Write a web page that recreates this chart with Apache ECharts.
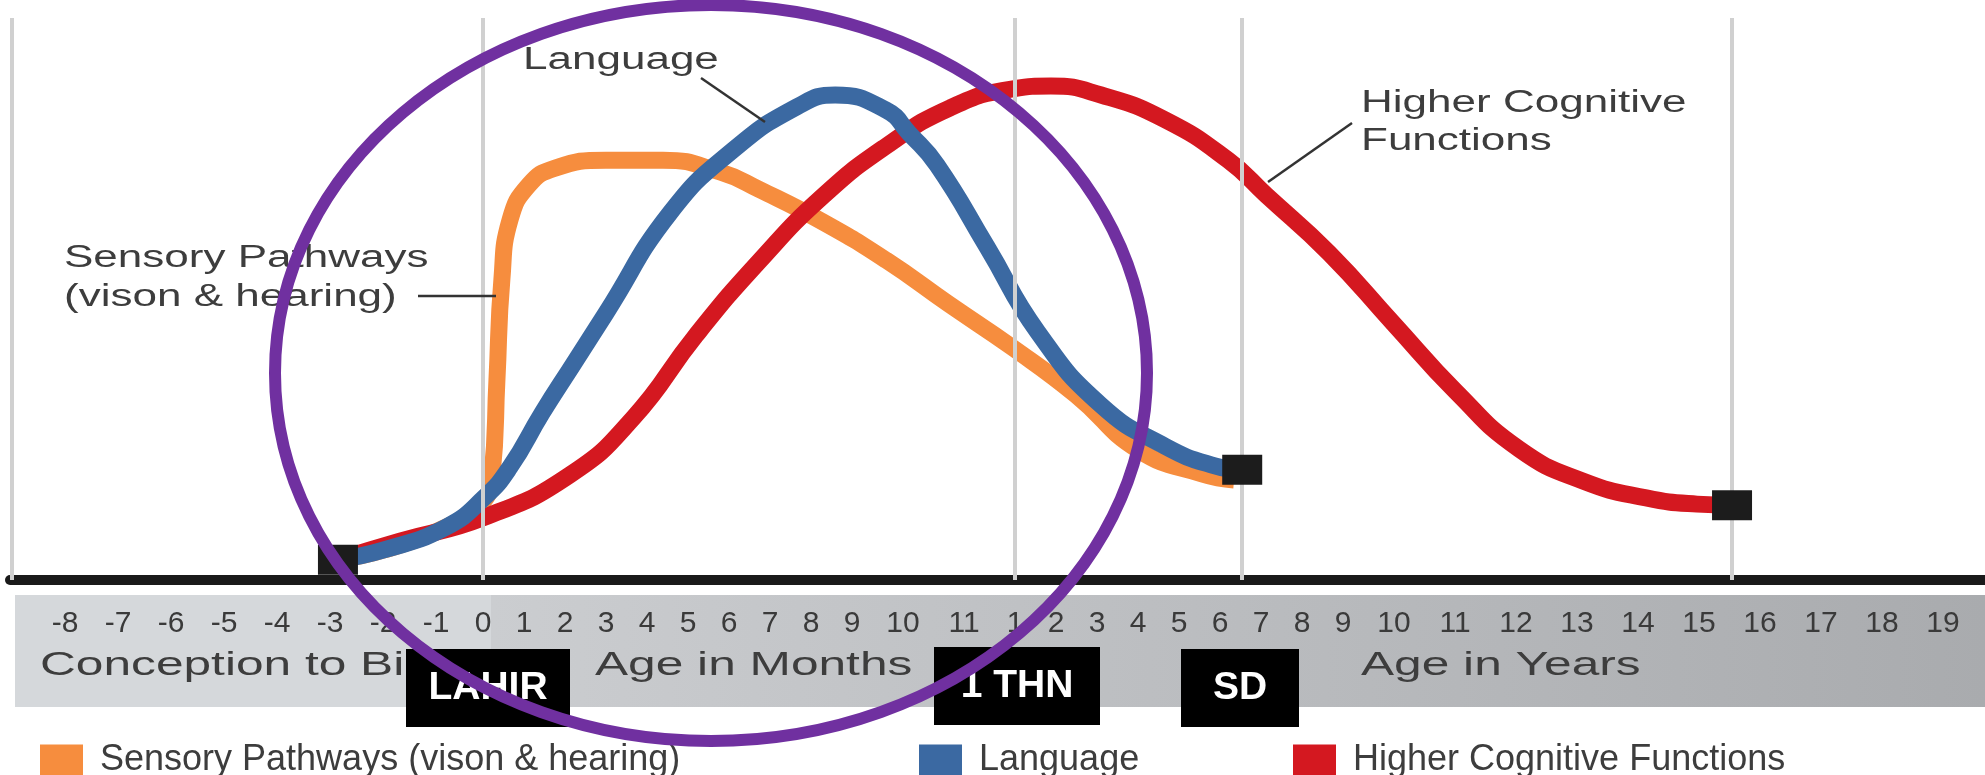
<!DOCTYPE html>
<html>
<head>
<meta charset="utf-8">
<title>Brain development</title>
<script src="https://cdn.jsdelivr.net/npm/echarts@6/dist/echarts.min.js"></script>
<style>
  html, body { margin: 0; padding: 0; background: #fff; }
  #chart { width: 1985px; height: 775px; }
</style>
</head>
<body>
<div id="chart"></div>
<script>
// tick labels of the age strip: months before birth, months, then years
const tickLabels = ['-8', '-7', '-6', '-5', '-4', '-3', '-2', '-1', '0', '1', '2', '3', '4', '5', '6', '7', '8', '9', '10', '11',
  '1', '2', '3', '4', '5', '6', '7', '8', '9', '10', '11', '12', '13', '14', '15', '16', '17', '18', '19'];

const seriesNames = ['Sensory Pathways (vison & hearing)', 'Language', 'Higher Cognitive Functions'];

// age in months (negative = before birth) and relative level
const sensoryAge = [-2.85, -2.0, -0.79, -0.06, 0.22, 0.34, 0.46, 0.66, 1.12, 1.76, 3.0, 4.39, 5.78, 6.76, 8.29, 9.67, 10.75, 11.96, 29.9, 48.2, 66.7, 76.1];
const sensoryLevel = [3.6, 5.3, 9.4, 13.3, 18.7, 35.6, 53.4, 64.1, 70.3, 73.3, 74.7, 74.7, 72.6, 69.4, 63.7, 56.9, 49.1, 41.3, 32.9, 23.1, 18.9, 17.8];

const languageAge = [-2.85, -2.0, -0.79, 0.05, 0.66, 1.44, 2.22, 3.0, 4.56, 6.1, 7.66, 8.59, 9.67, 10.1, 10.56, 11.45, 18.7, 37.2, 55.9, 70.5, 78.5];
const languageLevel = [3.6, 5.3, 9.4, 14.8, 20.1, 29.7, 38.6, 47.5, 65.3, 76.5, 84.2, 86.3, 83.6, 79.5, 73.8, 59.3, 44.1, 31.1, 23.8, 20.3, 19.6];

const cognitiveAge = [-2.85, -1.68, 0.05, 2.12, 3.66, 5.2, 6.76, 8.29, 9.67, 10.77, 11.96, 22.5, 37.2, 55.9, 74.4, 85.5, 103.9, 119.8, 132.2, 144.6, 157.2, 169.6, 179.6, 186.5];
const cognitiveLevel = [3.6, 6.9, 11.2, 18.7, 28.8, 43.6, 56.9, 68.3, 77.2, 84, 87.4, 87.9, 86.3, 81.9, 74.7, 68.5, 58.2, 45.7, 33.5, 23.3, 17.6, 14.6, 13.5, 13.3];

// vertical reference lines: conception, birth, 1 year, ~6.5 years, ~15.5 years
const refAges = [-9, 0, 12, 78.5, 186.5];

// the strip is laid out like running text: label centres follow label widths
const DIGIT = 20, DASH = 12, GAP = 21, FIRST = 65, STRIP_W = 1985;
const labelW = s => s.replace('-', '').length * DIGIT + (s[0] === '-' ? DASH : 0);
const tickPos = [];
tickLabels.forEach((s, i) => {
  tickPos.push(i === 0 ? FIRST : tickPos[i - 1] + (labelW(tickLabels[i - 1]) + labelW(s)) / 2 + GAP);
});
const slotOf = m => (m <= 12 ? m + 8 : 19 + m / 12);
const posOf = m => {
  const s = slotOf(m);
  const i = Math.max(0, Math.min(tickPos.length - 2, Math.floor(s)));
  return tickPos[i] + (s - i) * (tickPos[i + 1] - tickPos[i]);
};
const labelAt = v => {
  const i = tickPos.findIndex(p => Math.abs(p - v) < 0.5);
  return i < 0 ? '' : tickLabels[i];
};

const colors = ['#f68d3e', '#3b69a2', '#d41820'];
const txt = '#3d3d3d';
const FONT = '"Liberation Sans", Arial, sans-serif';

const line = (name, ages, levels, color) => ({
  name, type: 'line', smooth: 0.5, symbol: 'none', silent: true,
  data: ages.map((a, i) => [posOf(a), levels[i]]),
  lineStyle: { color, width: 17 },
  itemStyle: { color },
  z: 3
});

const chart = echarts.init(document.getElementById('chart'));

const stretched = (text, x, y, size, sx) => ({
  type: 'text', x, y, scaleX: sx, z: 20,
  style: { text, x: 0, y: 0, font: size + 'px ' + FONT, fill: txt, textVerticalAlign: 'middle', verticalAlign: 'middle' }
});
const leader = (x1, y1, x2, y2) => ({
  type: 'line', z: 20, shape: { x1, y1, x2, y2 }, style: { stroke: '#333', lineWidth: 2.5 }
});
const tag = (text, x, y, w, h) => [
  { type: 'rect', z: 50, shape: { x, y, width: w, height: h }, style: { fill: '#000' } },
  { type: 'text', z: 51, x: x + w / 2, y: y + h / 2,
    style: { text, font: 'bold 39px ' + FONT, fill: '#fff', textAlign: 'center', align: 'center', textVerticalAlign: 'middle', verticalAlign: 'middle' } }
];

chart.setOption({
  backgroundColor: '#fff',
  animation: false,
  grid: { left: 10, right: 0, top: 18, bottom: 195 },
  xAxis: {
    type: 'value', min: 10, max: STRIP_W,
    axisLine: { show: true, lineStyle: { color: '#1a1a1a', width: 10 } },
    axisTick: { show: false },
    splitLine: { show: false },
    axisLabel: {
      customValues: tickPos, formatter: labelAt, hideOverlap: false,
      fontSize: 30, fontFamily: FONT, color: '#3a3a3a', margin: 29
    }
  },
  yAxis: { type: 'value', min: 0, max: 100, show: false },
  legend: seriesNames.map((n, i) => ({
    data: [n], left: [35, 914, 1288][i], top: 737, icon: 'rect',
    itemWidth: 43, itemHeight: 31,
    textStyle: { fontSize: 36, fontFamily: FONT, color: txt, padding: [0, 0, 0, 12] }
  })),
  series: [
    {
      type: 'line', data: [], z: 1, silent: true,
      markLine: {
        silent: true, symbol: 'none', label: { show: false },
        lineStyle: { color: '#d0d0d0', width: 4, type: 'solid' },
        data: refAges.map(a => ({ xAxis: posOf(a) }))
      }
    },
    line(seriesNames[0], sensoryAge, sensoryLevel, colors[0]),
    line(seriesNames[2], cognitiveAge, cognitiveLevel, colors[2]),
    line(seriesNames[1], languageAge, languageLevel, colors[1]),
    {
      type: 'scatter', symbol: 'rect', symbolSize: [40, 30], silent: true, z: 10,
      itemStyle: { color: '#1c1c1c', opacity: 1 },
      data: [
        [posOf(languageAge[0]), languageLevel[0]],
        [posOf(languageAge[languageAge.length - 1]), languageLevel[languageLevel.length - 1]],
        [posOf(cognitiveAge[cognitiveAge.length - 1]), cognitiveLevel[cognitiveLevel.length - 1]]
      ]
    }
  ],
  graphic: [
    { type: 'rect', z: -10, shape: { x: 15, y: 595, width: 476, height: 112 }, style: { fill: '#d5d8db' } },
    { type: 'rect', z: -10, shape: { x: 491, y: 595, width: STRIP_W - 491, height: 112 },
      style: { fill: new echarts.graphic.LinearGradient(0, 0, 1, 0, [{ offset: 0, color: '#cbcdd0' }, { offset: 1, color: '#a9abae' }]) } },
    stretched('Conception to Birth', 40, 666, 34, 1.46),
    stretched('Age in Months', 595, 666, 34, 1.46),
    stretched('Age in Years', 1361, 666, 34, 1.46),
    stretched('Language', 523, 60, 31, 1.42),
    leader(701, 78, 765, 122),
    stretched('Higher Cognitive', 1361, 103, 31, 1.42),
    stretched('Functions', 1361, 141, 31, 1.42),
    leader(1352, 123, 1268, 182),
    stretched('Sensory Pathways', 64, 258, 31, 1.42),
    stretched('(vison & hearing)', 64, 297, 31, 1.42),
    leader(418, 296, 496, 296),
    ...tag('LAHIR', 406, 649, 164, 78),
    ...tag('1 THN', 934, 647, 166, 78),
    ...tag('SD', 1181, 649, 118, 78),
    { type: 'ellipse', z: 60, shape: { cx: 711, cy: 373, rx: 436, ry: 368 },
      style: { fill: 'none', stroke: '#7030a0', lineWidth: 12 } }
  ]
});
</script>
</body>
</html>
